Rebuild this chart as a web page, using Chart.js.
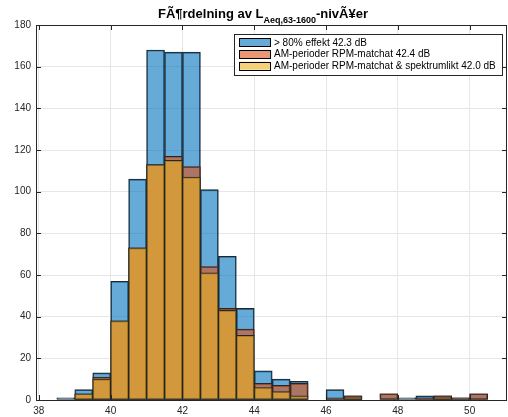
<!DOCTYPE html>
<html><head><meta charset="utf-8">
<script src="https://cdn.jsdelivr.net/npm/chart.js@4/dist/chart.umd.min.js"></script>
<style>html,body{margin:0;padding:0;background:#fff}#wrap{width:508px;height:417px}</style>
</head><body><div id="wrap"><canvas id="c" width="508" height="417"></canvas></div>
<script>
// Bin left edges (bin width 0.5 dB)
const binStarts = [38.5,39,39.5,40,40.5,41,41.5,42,42.5,43,43.5,44,44.5,45,45.5,46,46.5,47,47.5,48,48.5,49,49.5,50];
const binWidth = 0.5;
// Counts per bin
const effekt80    = [1,5,13,57,106,168,167,167,101,69,44,14,10,9,0,5,2,0,3,1,2,2,1,3];
const rpmMatchat  = [0,3,11,38,73,113,117,112,64,44,34,8,7,8,0,1,2,0,3,0,1,2,1,3];
const rpmSpektrum = [0,3,10,38,73,113,115,107,61,43,31,6,4,2,0,0,1,0,0,0,0,1,0,0];
const seriesLabels = ['> 80% effekt 42.3 dB','AM-perioder RPM-matchat 42.4 dB','AM-perioder RPM-matchat & spektrumlikt 42.0 dB'];
const xTicks = [38,40,42,44,46,48,50];
const yTicks = [0,20,40,60,80,100,120,140,160,180];
const titleParts = ['FÃ¶rdelning av L','Aeq,63-1600','-nivÃ¥er'];

const colors = ['rgba(0,114,189,0.6)','rgba(217,83,25,0.6)','rgba(237,177,32,0.6)'];
const edge = '#262626';
const FONT = '"Liberation Sans", Arial, Helvetica, sans-serif';

function pts(arr){ return binStarts.map((s,i)=>({x:s+binWidth/2, y:arr[i]})); }

const decor = {
  id:'decor',
  afterDraw(chart){
    const ctx = chart.ctx, a = chart.chartArea;
    const xs = chart.scales.x, ys = chart.scales.y;
    ctx.save();
    // box
    ctx.strokeStyle = edge; ctx.lineWidth = 1;
    ctx.strokeRect(Math.round(a.left)+0.5, Math.round(a.top)+0.5, Math.round(a.right-a.left)-1, Math.round(a.bottom-a.top));
    // ticks
    const tl = 5;
    ctx.beginPath();
    xTicks.forEach(v=>{
      const px = Math.round(xs.getPixelForValue(v))+0.5;
      ctx.moveTo(px,a.bottom); ctx.lineTo(px,a.bottom-tl);
      ctx.moveTo(px,a.top); ctx.lineTo(px,a.top+tl);
    });
    yTicks.forEach(v=>{
      const py = Math.round(ys.getPixelForValue(v))+0.5;
      ctx.moveTo(a.left,py); ctx.lineTo(a.left+tl,py);
      ctx.moveTo(a.right,py); ctx.lineTo(a.right-tl,py);
    });
    ctx.stroke();

    // title
    const f1 = 'bold 13px '+FONT, f2 = 'bold 9px '+FONT;
    ctx.fillStyle = '#000'; ctx.textBaseline = 'alphabetic';
    ctx.font = f1; const w1 = ctx.measureText(titleParts[0]).width, w3 = ctx.measureText(titleParts[2]).width;
    ctx.font = f2; const w2 = ctx.measureText(titleParts[1]).width;
    let x0 = 263 - (w1+w2+w3)/2; const by = 18;
    ctx.font = f1; ctx.textAlign = 'left';
    ctx.fillText(titleParts[0], x0, by);
    ctx.font = f2; ctx.fillText(titleParts[1], x0+w1, by+4.5);
    ctx.font = f1; ctx.fillText(titleParts[2], x0+w1+w2, by);

    // legend
    const lx = 234, ly = 34, lw = 268, lh = 41;
    ctx.fillStyle = '#fff'; ctx.fillRect(lx, ly, lw, lh);
    ctx.strokeStyle = edge; ctx.lineWidth = 1;
    ctx.strokeRect(lx+0.5, ly+0.5, lw, lh);
    const rows = [42.3, 54, 65.7];
    ctx.font = '10px '+FONT; ctx.textBaseline = 'middle';
    rows.forEach((cy,i)=>{
      ctx.fillStyle = '#fff'; ctx.fillRect(239, cy-4, 31, 8);
      ctx.fillStyle = colors[i]; ctx.fillRect(239, cy-4, 31, 8);
      ctx.strokeStyle = '#000'; ctx.strokeRect(239.5, Math.round(cy-4)+0.5, 31, 8);
      ctx.fillStyle = '#000'; ctx.fillText(seriesLabels[i], 274, cy+0.5);
    });
    ctx.restore();
  }
};

new Chart(document.getElementById('c'), {
  type:'bar',
  data:{ datasets:[
    {label:seriesLabels[0], data:pts(effekt80), backgroundColor:colors[0], borderColor:edge, borderWidth:1, borderSkipped:false, order:3, grouped:false, barPercentage:1, categoryPercentage:1},
    {label:seriesLabels[1], data:pts(rpmMatchat), backgroundColor:colors[1], borderColor:edge, borderWidth:1, borderSkipped:false, order:2, grouped:false, barPercentage:1, categoryPercentage:1},
    {label:seriesLabels[2], data:pts(rpmSpektrum), backgroundColor:colors[2], borderColor:edge, borderWidth:1, borderSkipped:false, order:1, grouped:false, barPercentage:1, categoryPercentage:1}
  ]},
  options:{
    responsive:false, animation:false, devicePixelRatio:1,
    layout:{padding:{left:0,right:1,top:25,bottom:0}},
    plugins:{legend:{display:false}, tooltip:{enabled:false}, title:{display:false}},
    scales:{
      x:{type:'linear', min:37.92, max:51.04, offset:false,
         grid:{offset:false, color:'#e6e6e6', drawTicks:false},
         border:{display:false},
         ticks:{font:{size:10, family:FONT}, color:'#262626', padding:5, maxRotation:0},
         afterBuildTicks:s=>{s.ticks = xTicks.map(v=>({value:v}));},
         afterFit:s=>{s.height = 17;}},
      y:{type:'linear', min:0, max:180,
         grid:{color:'#e6e6e6', drawTicks:false},
         border:{display:false},
         ticks:{font:{size:10, family:FONT}, color:'#262626', padding:5},
         afterBuildTicks:s=>{s.ticks = yTicks.map(v=>({value:v}));},
         afterFit:s=>{s.width = 36;}}
    }
  },
  plugins:[decor]
});
</script></body></html>
